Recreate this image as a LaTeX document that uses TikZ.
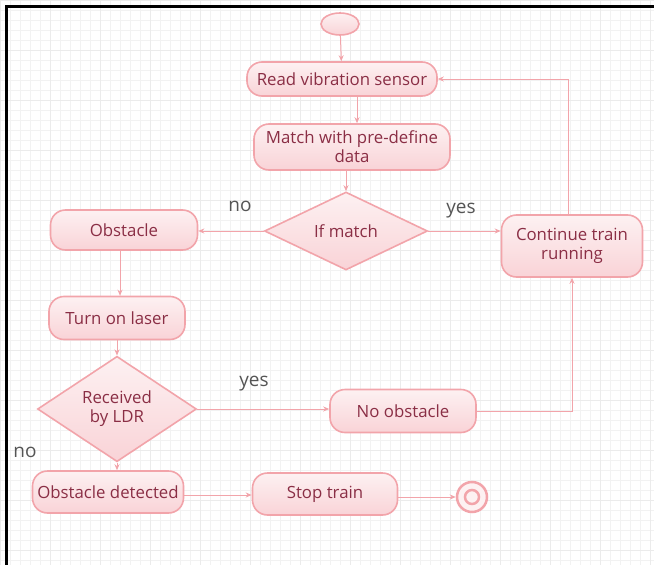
\documentclass[tikz,border=0pt]{standalone}
\usepackage{fontspec}
\setmainfont{Open Sans}
\usetikzlibrary{shapes.geometric,arrows.meta}
\definecolor{edgepink}{HTML}{F2A4AA}
\definecolor{boxtop}{HTML}{FDF1F2}
\definecolor{boxbot}{HTML}{F9D3D7}
\definecolor{txtred}{HTML}{8A2E45}
\definecolor{lblgray}{HTML}{555555}
\tikzset{
  x=1pt, y=-1pt,
  box/.style={rectangle, rounded corners=15pt, draw=edgepink, line width=1.6pt,
    top color=boxtop, bottom color=boxbot, text=txtred, align=center,
    font=\fontsize{16.8}{19}\selectfont, inner sep=1pt},
  decision/.style={diamond, draw=edgepink, line width=1.6pt, top color=boxtop,
    bottom color=boxbot, text=txtred, align=center, inner sep=0pt,
    font=\fontsize{16.8}{19}\selectfont},
  arr/.style={draw=edgepink, line width=1pt, -{Stealth[length=6pt,width=5pt]}},
  lbl/.style={text=lblgray, font=\fontsize{19}{22}\selectfont, inner sep=0pt},
}
\begin{document}
\begin{tikzpicture}
\useasboundingbox (0,0) rectangle (654,565);
\fill[white] (0,0) rectangle (654,565);
% background grid
\draw[black!5, line width=0.4pt] (0,0) grid[step=10pt] (654,565);
\draw[black!8, line width=0.6pt] (0,0) grid[step=50pt] (654,565);
% frame
\draw[black, line width=3pt] (6,565) -- (6,6) -- (654,6);

% nodes
\node[ellipse, draw=edgepink, line width=1.6pt, top color=boxtop, bottom color=boxbot,
      minimum width=38, minimum height=22] (start) at (340,24) {};
\node[box, minimum width=190, minimum height=34] (read) at (342,79) {Read vibration sensor};
\node[box, minimum width=196, minimum height=46] (match) at (352,147) {Match with pre-define\\data};
\node[decision, minimum width=163, minimum height=78] (ifm) at (346,231) {If match};
\node[box, minimum width=147, minimum height=40] (obst) at (124,230) {Obstacle};
\node[box, minimum width=141, minimum height=62] (cont) at (572,246) {Continue train\\running};
\node[box, minimum width=136, minimum height=43] (laser) at (117,318) {Turn on laser};
\node[decision, minimum width=159, minimum height=78] (ldr) at (117,409) {Received\\by LDR};
\node[box, minimum width=146, minimum height=43] (noobs) at (403,411) {No obstacle};
\node[box, minimum width=151, minimum height=42] (det) at (108,492) {Obstacle detected};
\node[box, minimum width=145, minimum height=42] (stop) at (325,494) {Stop train};
\node[circle, draw=edgepink, line width=2.5pt, fill=boxtop, minimum size=30] (end) at (472,497) {};
\node[circle, draw=edgepink, line width=2.5pt, fill=boxtop, minimum size=14] (endin) at (472,497) {};

% labels
\node[lbl] (lno1) at (240,206) {no};
\node[lbl] (lyes1) at (461,211) {yes};
\node[lbl] (lyes2) at (254,384) {yes};
\node[lbl] (lno2) at (25,452) {no};

% connectors
\draw[arr] (start) -- (read);
\draw[arr] ([xshift=15pt]read.south) -- ([xshift=5pt]match.north);
\draw[arr] (match.south -| ifm) -- (ifm.north);
\draw[arr] (ifm.west) -- (ifm.west -| obst.east);
\draw[arr] (ifm.east) -- (ifm.east -| cont.west);
\draw[arr] ([xshift=-4pt]cont.north) |- (read.east);
\draw[arr] (obst.south -| laser) ++(3,0) -- ([xshift=3pt]laser.north);
\draw[arr] (laser.south) -- (ldr.north);
\draw[arr] (ldr.east) -- (ldr.east -| noobs.west);
\draw[arr] (noobs.east) -| (cont.south);
\draw[arr] (ldr.south) -- (ldr.south |- det.north);
\draw[arr] ([yshift=-3pt]det.east) -- ([yshift=-3pt]det.east -| stop.west);
\draw[arr] (stop.east |- end) -- (end.west);
\end{tikzpicture}
\end{document}
